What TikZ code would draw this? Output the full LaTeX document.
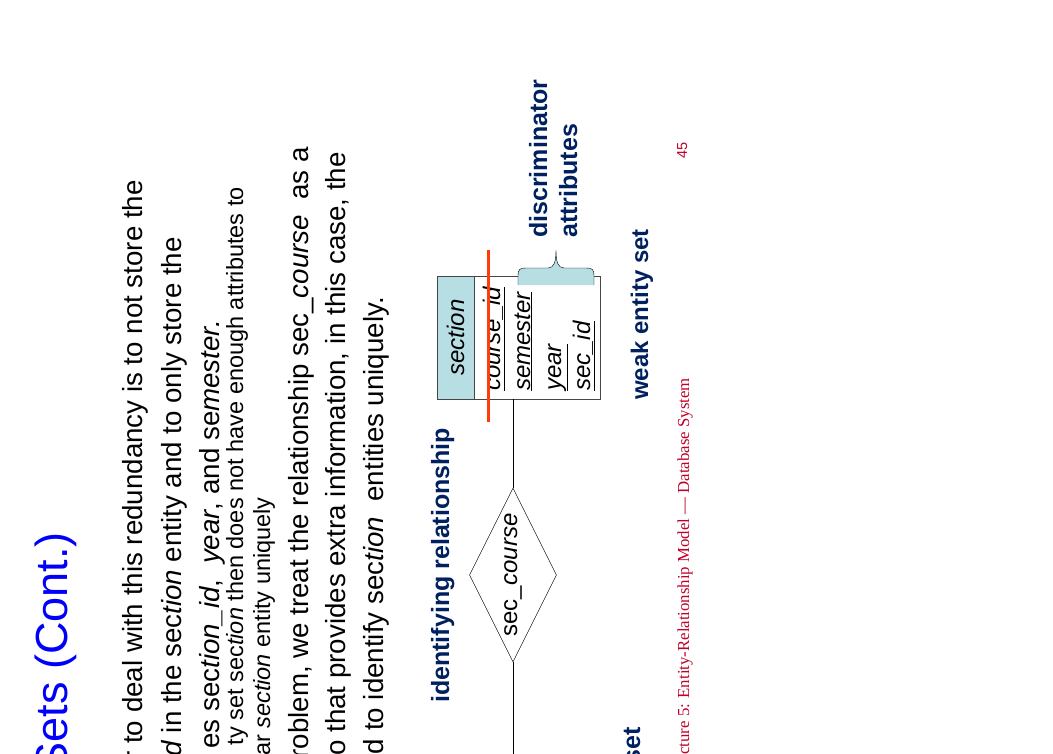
\documentclass[tikz,border=0pt]{standalone}
\usepackage{fontspec}
\setmainfont{Liberation Sans}
\newfontfamily\footfont{Liberation Serif}
\usetikzlibrary{shapes.geometric,positioning}
\definecolor{titleblue}{RGB}{0,0,250}
\definecolor{tagnavy}{RGB}{0,32,96}
\definecolor{footred}{RGB}{192,0,40}
\definecolor{headcyan}{RGB}{183,222,226}
\definecolor{boxgray}{RGB}{70,70,70}
\definecolor{strikered}{RGB}{255,60,10}
\tikzset{
  body/.style={rotate=90,anchor=base east,inner sep=0pt,font=\fontsize{27.7}{30}\selectfont},
  bodysmall/.style={body,font=\fontsize{23.5}{26}\selectfont},
  tag/.style={rotate=90,anchor=base west,inner sep=0pt,text=tagnavy,font=\bfseries\fontsize{25}{28}\selectfont},
  attr/.style={rotate=90,anchor=base west,inner sep=0pt,font=\itshape\fontsize{24}{26}\selectfont}
}
\begin{document}
\begin{tikzpicture}[x=1pt,y=-1pt]
\useasboundingbox (0,0) rectangle (1053,753);
\clip (0,0) rectangle (1053,753);

\node (title) [rotate=90,anchor=base east,inner sep=0pt,text=titleblue,font=\fontsize{45}{50}\selectfont] at (67,532) {Sets (Cont.)};

\node (t1) [body] at (142,180) {r to deal with this redundancy is to not store the};
\node (t2) [body] at (181,237) {\textit{d} in the sec\textit{tion} entity and to only store the};
\node (t3) [body] at (219,320) {es sec\textit{tion\_id}, \ \textit{year}, and se\textit{mester.}};
\node (t4) [bodysmall] at (243,187) {ty set sec\textit{tion} then does not have enough attributes to};
\node (t5) [bodysmall] at (270,497) {ar \textit{section} entity uniquely};
\node (t6) [body] at (308,147) {roblem, we treat the relationship sec\_\textit{course} \ as a};
\node (t7) [body] at (345,152) {o that provides extra information, in this case, the};
\node (t8) [body] at (383,297) {d to identify sec\textit{tion} \ entities uniquely.};

\node (hdr) [rotate=90,draw=boxgray,fill=headcyan,minimum width=123pt,minimum height=37pt,inner sep=0pt,font=\itshape\fontsize{24}{26}\selectfont] at (455.5,337.5) {section};
\node (atts) [rotate=90,draw=boxgray,minimum width=123pt,minimum height=126pt,inner sep=0pt] at (537,337.5) {};
\node (a1) [attr] at (500,391) {\underline{course\_id}};
\node (a2) [attr] at (530,391) {\underline{semester}};
\node (a3) [attr] at (561,391) {\underline{year}};
\node (a4) [attr] at (590,391) {\underline{sec\_id}};

% brace over the discriminator
\fill[headcyan] (518,285) -- (518,276) .. controls (518,269) and (520,268) .. (526,268) -- (548,268) .. controls (554,268) and (556,262) .. (556,250) .. controls (556,262) and (558,268) .. (564,268) -- (586,268) .. controls (592,268) and (594,269) .. (594,276) -- (594,285) -- cycle;
\draw (518,285) -- (518,276) .. controls (518,269) and (520,268) .. (526,268) -- (548,268) .. controls (554,268) and (556,262) .. (556,250) .. controls (556,262) and (558,268) .. (564,268) -- (586,268) .. controls (592,268) and (594,269) .. (594,276) -- (594,285);

\draw[strikered,line width=3pt] (488,250) -- (488,422);

\node (rel) [diamond,draw,rotate=90,aspect=2,minimum width=174pt,minimum height=87pt,inner sep=0pt,font=\fontsize{24}{26}\selectfont] at (513,575) {sec\_\textit{course}};
\coordinate (edge) at (513,760);
\draw (rel.east) -- (rel.east |- atts.west);
\draw (rel.west) -- (edge);

\node (idrel) [tag] at (449,703) {identifying relationship};
\node (disc) [tag] at (547,238) {discriminator};
\node (discb) [tag] at (577,238) {attributes};
\node (weak) [tag,font=\bfseries\fontsize{24}{27}\selectfont] at (648,400) {weak entity set};
\node (strong) [tag,anchor=base east] at (640,727) {set};

\node (foot) [rotate=90,anchor=base east,inner sep=0pt,text=footred,font=\footfont\fontsize{16.8}{19}\selectfont] at (689,378) {cture 5: Entity-Relationship Model — Database System};
\node (pnum) [rotate=90,anchor=base east,inner sep=0pt,text=footred,font=\fontsize{14.5}{16}\selectfont] at (687,142) {45};
\end{tikzpicture}
\end{document}
